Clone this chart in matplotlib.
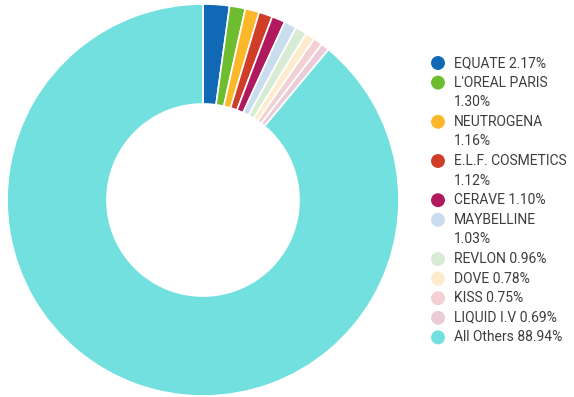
import matplotlib.pyplot as plt
from matplotlib.patches import Ellipse

# données
marques = ["EQUATE", "L'OREAL PARIS", "NEUTROGENA", "E.L.F. COSMETICS", "CERAVE",
           "MAYBELLINE", "REVLON", "DOVE", "KISS", "LIQUID I.V", "All Others"]
parts = [2.17, 1.30, 1.16, 1.12, 1.10, 1.03, 0.96, 0.78, 0.75, 0.69, 88.94]
couleurs = ["#1168b5", "#6dbd2e", "#fcb829", "#d03d28", "#b0195d", "#c9ddee",
            "#d8ecd5", "#fdebcd", "#f3d0d1", "#ebcbd8", "#73e0e0"]
# étiquettes de légende (retours à la ligne comme sur l'image)
etiquettes = ["EQUATE 2.17%", "L'OREAL PARIS\n1.30%", "NEUTROGENA\n1.16%",
              "E.L.F. COSMETICS\n1.12%", "CERAVE 1.10%", "MAYBELLINE\n1.03%",
              "REVLON 0.96%", "DOVE 0.78%", "KISS 0.75%", "LIQUID I.V 0.69%",
              "All Others 88.94%"]

plt.rcParams['font.family'] = ['Roboto', 'DejaVu Sans']

fig = plt.figure(figsize=(5.74, 3.97), dpi=100)
ax = fig.add_axes([7/574, 1/397, 392/574, 392/397])
ax.pie(parts, colors=couleurs, startangle=90, counterclock=False,
       wedgeprops=dict(width=0.51, edgecolor='white', linewidth=1.2))
ax.set_xlim(-1.0, 1.0)
ax.set_ylim(-1.0, 1.0)
ax.set_aspect('equal')

# légende dessinée à la main (pastille alignée sur la première ligne)
W, H = 574, 397
y = 63
pas = 19.6
for lab, c in zip(etiquettes, couleurs):
    fig.patches.append(Ellipse((438/W, 1 - y/H), 12.5/W, 12.5/H, color=c,
                               transform=fig.transFigure, figure=fig))
    for ligne in lab.split("\n"):
        fig.text(454/W, 1 - y/H, ligne, fontsize=10, color='#3d3d3d',
                 va='center', ha='left')
        y += pas

fig.savefig("out.png", dpi=100)
